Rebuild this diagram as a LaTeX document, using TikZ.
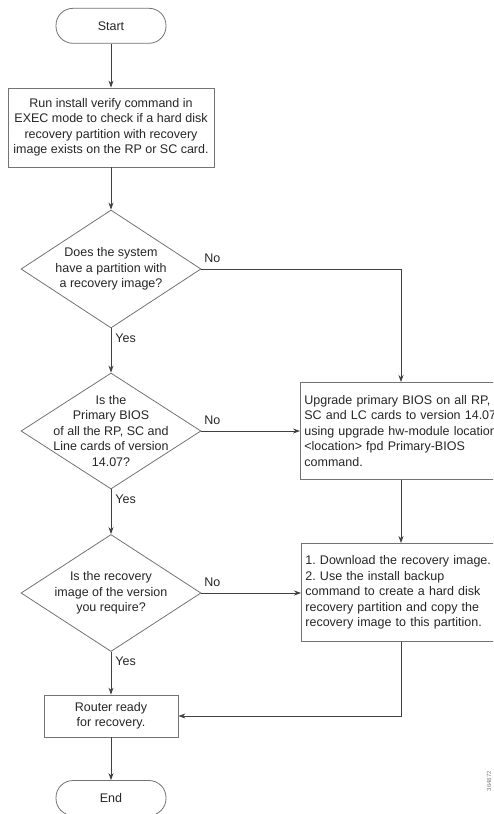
\documentclass[tikz,border=0pt]{standalone}
\usepackage{fontspec}
\setmainfont{Liberation Sans}
\usetikzlibrary{shapes.geometric,arrows.meta,calc}
\frenchspacing
\begin{document}
\begin{tikzpicture}[x=1pt,y=-1pt,
 txt/.style={font=\fontsize{12.5}{15.5}\selectfont, text=black!85},
 box/.style={draw=black!55, line width=0.8pt, rectangle, inner sep=0pt, txt, align=center},
 term/.style={box, rounded corners=17pt, minimum width=110pt, minimum height=35pt},
 dec/.style={draw=black!55, line width=0.8pt, diamond, minimum width=180pt, minimum height=118pt, inner sep=0pt},
 dtext/.style={txt, align=center, inner sep=0pt},
 conn/.style={draw=black!75, line width=0.8pt, -{Stealth[length=7pt,width=5pt]}},
 yeslbl/.style={txt, right, pos=0.22, inner sep=4pt},
 nolbl/.style={txt, anchor=south west, inner xsep=2.5pt, inner ysep=5.5pt},
 rbox/.style={box, anchor=north west, minimum width=205pt, text width=197pt, align=left, inner xsep=4pt}
]
\useasboundingbox (0,0) rectangle (493,814);
\clip (0,0) rectangle (493,814);
\fill[white] (0,0) rectangle (493,814);

\node[term] (start) at (111,25.8) {Start};
\node[box, minimum width=206pt, minimum height=79pt] (verify) at (111,127.5)
  {Run install verify command in\\EXEC mode to check if a hard disk\\recovery partition with recovery\\image exists on the RP or SC card.};
\node[dec, label={[dtext]center:{Does the system\\have a partition with\\a recovery image?}}] (d1) at (111,269) {};
\node[dec, minimum height=116pt, label={[dtext]center:{Is the\\Primary BIOS\\of all the RP, SC and\\Line cards of version\\14.07?}}] (d2) at (111,431) {};
\node[dec, minimum height=117pt, label={[dtext]center:{Is the recovery\\image of the version\\you require?}}] (d3) at (111,593) {};
\node[box, minimum width=134pt, minimum height=42pt] (ready) at (111,716) {Router ready\\for recovery.};
\node[term] (end) at (111,798) {End};

\node[rbox, minimum height=97pt] (upg) at (300,382)
  {Upgrade primary BIOS on all RP,\\SC and LC cards to version 14.07\\using upgrade hw-module location\\<location> fpd Primary-BIOS\\command.};
\node[rbox, minimum height=98pt] (dl) at (301,543)
  {1. Download the recovery image.\\2. Use the install backup\\command to create a hard disk\\recovery partition and copy the\\recovery image to this partition.};

\coordinate (rx) at (401,0);

\draw[conn] (start) -- (verify);
\draw[conn] (verify) -- (d1);
\draw[conn] (d1) -- node[yeslbl]{Yes} (d2);
\draw[conn] (d2) -- node[yeslbl]{Yes} (d3);
\draw[conn] (d3) -- node[yeslbl]{Yes} (ready);
\draw[conn] (ready) -- (end);
\draw[conn] (d1.east) node[nolbl]{No} -| (rx |- upg.north);
\draw[conn] (d2.east) node[nolbl]{No} -- (d2.east -| upg.west);
\draw[conn] (d3.east) node[nolbl]{No} -- (d3.east -| dl.west);
\draw[conn] (rx |- upg.south) -- (rx |- dl.north);
\draw[conn] (rx |- dl.south) |- (ready.east);

\node[font=\fontsize{6}{6}\selectfont, text=black!50, rotate=90] (figid) at (489,781) {364872};
\end{tikzpicture}
\end{document}
